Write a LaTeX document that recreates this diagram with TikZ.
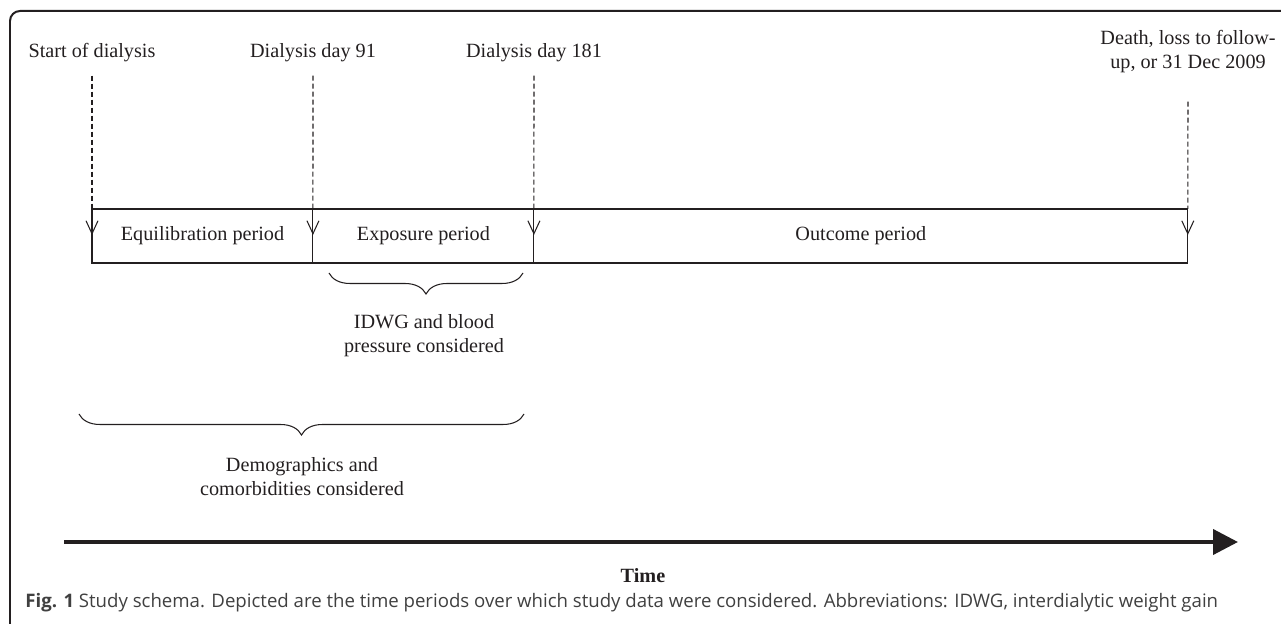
\documentclass[tikz,border=0pt]{standalone}
\usepackage{fontspec}
\setmainfont{Liberation Serif}
\newfontfamily\capfont{Open Sans}
\usepackage{tikz}
\usetikzlibrary{positioning,arrows.meta,decorations.pathreplacing}
\definecolor{ink}{HTML}{231F20}
\definecolor{capgray}{HTML}{404040}

\begin{document}
\begin{tikzpicture}[x=0.02cm,y=-0.02cm,
    every node/.style={text=ink, font=\fontsize{11.5}{13.7}\selectfont},
    stamp/.style={align=center, inner sep=0pt},
    period/.style={draw=ink, line width=0.6pt, minimum height=1.08cm, inner sep=0pt, outer sep=0pt},
    guide/.style={draw=ink, line width=0.6pt, dash pattern=on 0.1cm off 0.06cm},
    tick/.style={draw=ink, line width=0.6pt, -{Straight Barb[length=0.26cm,width=0.24cm]}},
    curly/.style={draw=ink, line width=0.6pt, decorate, decoration={brace, mirror, amplitude=0.42cm}},
    timeline/.style={draw=ink, line width=0.08cm, -{Triangle[length=0.5cm,width=0.5cm]}}]
        \useasboundingbox (0,0) rectangle (1281,624);
        \clip (0,0) rectangle (1281,624);

        % Frame
        \draw[ink, line width=0.04cm, rounded corners=0.2cm] (10,11) rectangle (1400,634);

        % Time points
        \node[stamp] (start) at (92,53) {Start of dialysis};
        \node[stamp] (day91) at (313,53) {Dialysis day 91};
        \node[stamp] (day181) at (534,53) {Dialysis day 181};
        \node[stamp] (death) at (1188,52) {Death, loss to follow-\\up, or 31 Dec 2009};

        % Periods
        \node[period, minimum width=4.42cm, anchor=north west] (equil) at (92,209) {Equilibration period};
        \node[period, minimum width=4.42cm, right=0pt of equil] (expo) {Exposure period};
        \node[period, minimum width=13.08cm, right=0pt of expo] (outcome) {Outcome period};

        % Dashed guides and arrows
        \draw[guide] ([yshift=-0.26cm]start.south) -- (equil.north west);
        \draw[guide] ([yshift=-0.26cm]day91.south) -- (expo.north west);
        \draw[guide] ([yshift=-0.26cm]day181.south) -- (outcome.north west);
        \draw[guide] ([yshift=-0.56cm]death.south) -- (outcome.north east);
        \draw[tick] (equil.north west) -- ++(0,26);
        \draw[tick] (expo.north west) -- ++(0,26);
        \draw[tick] (outcome.north west) -- ++(0,26);
        \draw[tick] (outcome.north east) -- ++(0,26);

        % Braces
        \draw[curly] (329,273) -- (523,273);
        \node[stamp] (idwg) at (424,336) {IDWG and blood\\pressure considered};
        \draw[curly] (79,414) -- (524,414);
        \node[stamp] (demo) at (302,477) {Demographics and\\comorbidities considered};

        % Time axis
        \coordinate (t0) at (64,542);
        \coordinate (t1) at (1238,542);
        \draw[timeline] (t0) -- (t1);
        \node[stamp, font=\fontsize{11.5}{13.7}\selectfont\bfseries] (time) at (643,576) {Time};

        % Caption
        \node[anchor=base west, inner sep=0pt, text=capgray, font=\capfont\fontsize{10.6}{13}\selectfont] (caption) at (25,607)
            {\makebox[23.86cm][s]{\textbf{Fig. 1} Study schema. Depicted are the time periods over which study data were considered. Abbreviations: IDWG, interdialytic weight gain}};
    \end{tikzpicture}
\end{document}
